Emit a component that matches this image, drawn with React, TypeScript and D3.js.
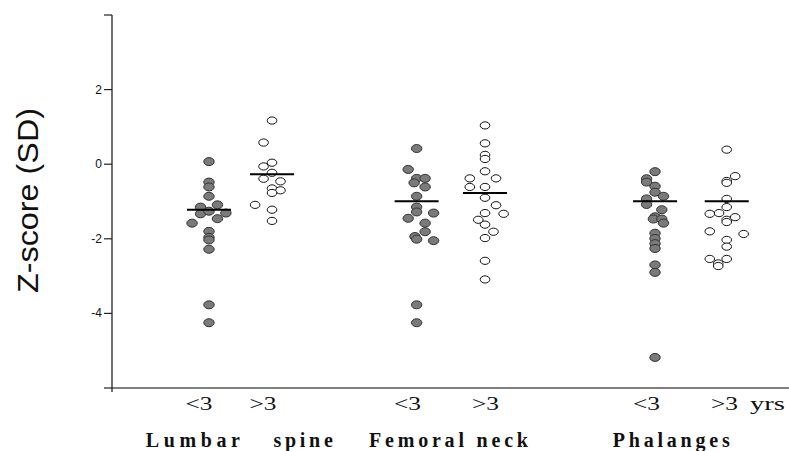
import React from "react";
import * as d3 from "d3";

// ---- data ----
const groups = ["Lumbar <3", "Lumbar >3", "Femoral <3", "Femoral >3", "Phalanges <3", "Phalanges >3"];
const groupPos = [1.146, 1.891, 3.6, 4.408, 6.417, 7.264];
const groupFilled = [true, false, true, false, true, false];
const groupMeans = [-1.22, -0.27, -0.99, -0.77, -0.99, -0.99];

const lumbarYoung = [0.07, -0.48, -0.61, -0.86, -1.09, -1.15, -1.33, -1.26, -1.31, -1.46, -1.58, -1.8, -1.96, -2.03, -2.28, -3.77, -4.25];
const lumbarYoungJit = [0, 0, 0, 0, 1, -1, -1, 0, 2, 1, -2, 0, 0, 0, 0, 0, 0];
const lumbarOld = [1.17, 0.58, 0.04, -0.06, -0.23, -0.39, -0.46, -0.65, -0.7, -0.77, -1.09, -1.22, -1.52];
const lumbarOldJit = [0, -1, 0, -1, 0, -1, 1, 0, 1, 0, -2, 0, 0];
const femoralYoung = [0.42, -0.14, -0.38, -0.38, -0.5, -0.61, -0.86, -1.15, -1.28, -1.31, -1.45, -1.58, -1.81, -1.94, -2.01, -2.05, -3.77, -4.25];
const femoralYoungJit = [0, -1, 0, 1, -0.3, 1, 0, 0, 0, 2, -1, 1, 1, -0.2, 0, 2, 0, 0];
const femoralOld = [1.04, 0.56, 0.25, 0.14, -0.19, -0.38, -0.38, -0.61, -0.61, -0.9, -1.1, -1.33, -1.31, -1.49, -1.62, -1.81, -1.98, -2.59, -3.09];
const femoralOldJit = [0, 0, 0, 0, 0, -1.8, 1.3, -1.8, 0, 0, 1.3, 2.2, 0, -0.8, 0, 1, 0, 0, 0];
const phalYoung = [-0.2, -0.39, -0.48, -0.59, -0.75, -0.86, -0.93, -1.08, -1.22, -1.41, -1.47, -1.47, -1.58, -1.85, -1.99, -2.13, -2.26, -2.7, -2.9, -5.18];
const phalYoungJit = [0, -1, -1, 0, 0, 1, -1, -1, 0.8, 0, -0.2, 0.8, 1, 0, 0, 0, 0, 0, 0, 0];
const phalOld = [0.39, -0.32, -0.45, -0.5, -0.93, -1.15, -1.33, -1.31, -1.49, -1.55, -1.42, -1.8, -1.87, -2.03, -2.21, -2.54, -2.54, -2.66, -2.73];
const phalOldJit = [0, 1, 0, 0, 0, 0, -2, -0.9, 0, 0, 1, -2, 2, 0, 0, -2, 0, -1, -1];

const groupValues = [lumbarYoung, lumbarOld, femoralYoung, femoralOld, phalYoung, phalOld];
const groupJitter = [lumbarYoungJit, lumbarOldJit, femoralYoungJit, femoralOldJit, phalYoungJit, phalOldJit];

const yTicks = [4, 2, 0, -2, -4, -6];
const yTickLabels = ["", "2", "0", "-2", "-4", ""];

const ageLabels = ["<3", ">3", "<3", ">3", "<3", ">3"];
const ageLabelPos = [1.028, 1.784, 3.492, 4.414, 6.316, 7.237];
const siteLabels = ["Lumbar", "spine", "Femoral neck", "Phalanges"];
const siteStart = [0.4, 1.907, 3.037, 5.917];
const siteEnd = [1.511, 2.61, 4.915, 7.3];
const unitLabel = "yrs";
const yTitle = "Z-score (SD)";

export default function App() {
  const W = 789, H = 451;
  const x = d3.scaleLinear().domain([0, 8]).range([112, 789]);
  const y = d3.scaleLinear().domain([-6, 4]).range([388, 15]);
  const jitStep = 0.1;
  const meanHalf = 0.26;
  const serif = "Liberation Serif, 'Times New Roman', serif";

  return (
    <svg width={W} height={H} style={{ position: "absolute", left: 0, top: 0 }}>
      <rect width={W} height={H} fill="#fff" />
      {/* x axis */}
      <line x1={x(0)} x2={W} y1={y(-6)} y2={y(-6)} stroke="#808080" strokeWidth={2} />
      {/* y axis */}
      <line x1={x(0)} x2={x(0)} y1={y(4)} y2={y(-6) + 4} stroke="#222" strokeWidth={1.3} />
      {yTicks.map((t, i) => (
        <g key={t}>
          <line x1={x(0) - 8} x2={x(0)} y1={y(t)} y2={y(t)} stroke="#222" strokeWidth={1.2} />
          {yTickLabels[i] && (
            <text x={x(0) - 10} y={y(t) + 4} textAnchor="end" fontFamily="Liberation Sans, Arial, sans-serif" fontSize={12} fill="#111">
              {yTickLabels[i]}
            </text>
          )}
        </g>
      ))}
      <text
        transform={`translate(38,${200.5}) rotate(-90)`}
        textAnchor="middle"
        fontFamily="Liberation Sans, Arial, sans-serif"
        fontSize={30}
        textLength={185}
        lengthAdjust="spacingAndGlyphs"
        fill="#111"
      >
        {yTitle}
      </text>

      {/* points */}
      {groups.map((g, gi) => (
        <g key={g}>
          {groupValues[gi].map((v, i) => (
            <ellipse
              key={i}
              cx={x(groupPos[gi] + groupJitter[gi][i] * jitStep)}
              cy={y(v)}
              rx={groupFilled[gi] ? 5.2 : 4.8}
              ry={groupFilled[gi] ? 4 : 3.6}
              fill={groupFilled[gi] ? "#7a7a7a" : "#fff"}
              stroke={groupFilled[gi] ? "#333" : "#111"}
              strokeWidth={1}
            />
          ))}
          <line
            x1={x(groupPos[gi] - meanHalf)}
            x2={x(groupPos[gi] + meanHalf)}
            y1={y(groupMeans[gi])}
            y2={y(groupMeans[gi])}
            stroke="#000"
            strokeWidth={2}
          />
        </g>
      ))}

      {/* age labels */}
      {ageLabels.map((l, i) => (
        <text
          key={i}
          x={x(ageLabelPos[i])}
          y={409.5}
          textAnchor="middle"
          fontFamily={serif}
          fontSize={19}
          textLength={27}
          lengthAdjust="spacingAndGlyphs"
          fill="#111"
        >
          {l}
        </text>
      ))}
      <text x={750} y={409.5} fontFamily={serif} fontSize={19} textLength={35} lengthAdjust="spacingAndGlyphs" fill="#111">
        {unitLabel}
      </text>
      {siteLabels.map((l, i) => (
        <text
          key={l}
          x={x(siteStart[i])}
          y={447}
          fontFamily={serif}
          fontWeight="bold"
          fontSize={20}
          textLength={x(siteEnd[i]) - x(siteStart[i])}
          lengthAdjust="spacing"
          fill="#111"
        >
          {l}
        </text>
      ))}
    </svg>
  );
}
